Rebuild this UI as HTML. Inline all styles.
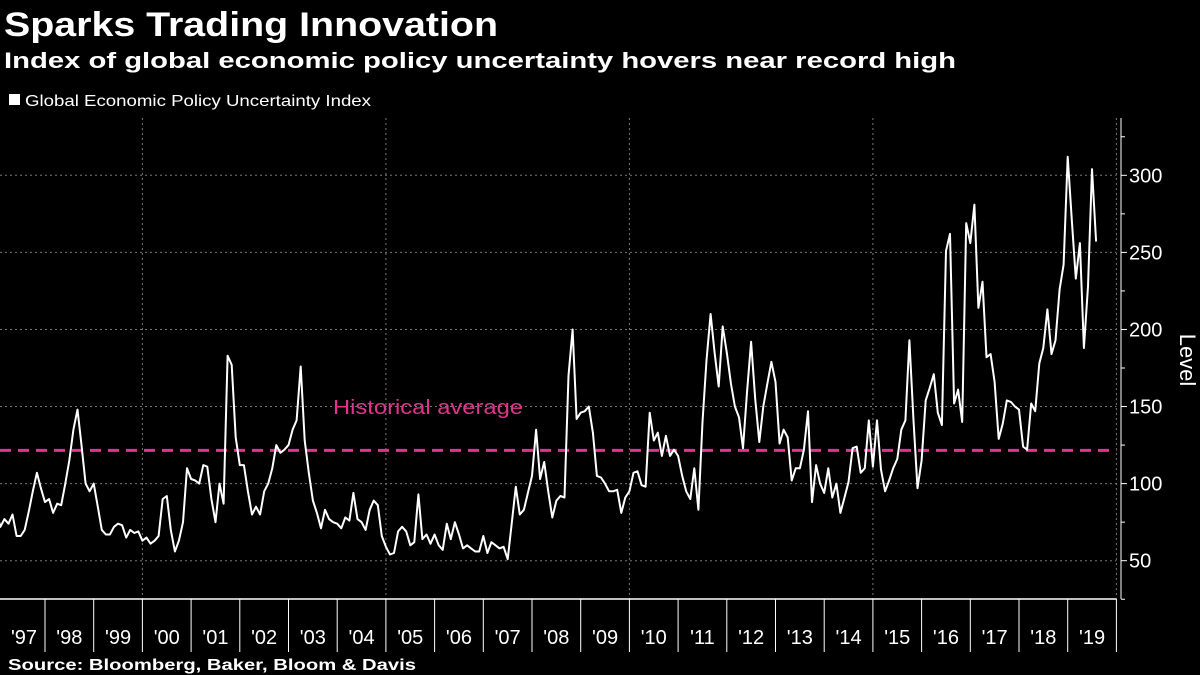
<!DOCTYPE html>
<html><head><meta charset="utf-8"><style>
html,body{margin:0;padding:0;background:#000;}
svg{display:block;font-family:"Liberation Sans",sans-serif;}
</style></head><body>
<svg id="chart" width="1200" height="675" viewBox="0 0 1200 675" xmlns="http://www.w3.org/2000/svg">
<rect width="1200" height="675" fill="#000"/>
<text x="4" y="36" fill="#fff" font-size="34" font-weight="bold" textLength="494" lengthAdjust="spacingAndGlyphs">Sparks Trading Innovation</text>
<text x="4" y="68" fill="#fff" font-size="22" font-weight="bold" textLength="952" lengthAdjust="spacingAndGlyphs">Index of global economic policy uncertainty hovers near record high</text>
<rect x="9" y="94" width="11" height="11" fill="#fff"/>
<text x="25" y="106" fill="#fff" font-size="16" textLength="346" lengthAdjust="spacingAndGlyphs">Global Economic Policy Uncertainty Index</text>
<text x="8" y="670" fill="#fff" font-size="16" font-weight="bold" textLength="408" lengthAdjust="spacingAndGlyphs">Source: Bloomberg, Baker, Bloom &amp; Davis</text>
<g id="grid"></g>
<g id="axes"></g>
<g id="series"></g>
</svg>
<script>
const yearLabels = ["'97","'98","'99","'00","'01","'02","'03","'04","'05","'06","'07","'08","'09","'10","'11","'12","'13","'14","'15","'16","'17","'18","'19"];
const yTicks = [50,100,150,200,250,300];
const historicalAverage = 121.6;
const v1997_2002 = [81,72,77,74,80,66,66,70,82,95,107,97,
 88,90,81,87,86,100,115,135,148,125,100,95,
 100,85,70,67,67,72,74,73,65,70,68,69,
 63,65,61,63,66,90,92,70,56,63,75,110,
 103,102,100,112,111,90,75,100,87,183,177,130,
 112,112,95,80,85,80,95,100,110,125,120,122];
const v2003_2008 = [125,135,141,176,128,107,89,81,71,83,77,75,
 74,71,78,76,94,77,75,70,83,89,86,66,
 59,54,55,69,72,69,60,62,93,64,67,61,
 67,60,57,74,64,75,67,58,60,58,56,56,
 66,55,62,60,58,59,51,74,98,80,83,94,
 105,135,103,114,95,78,89,92,91,170,200,142];
const v2009_2014 = [146,147,150,133,105,104,100,95,95,96,81,91,
 95,107,108,99,98,146,128,133,118,131,118,122,
 118,105,95,90,110,83,140,180,210,185,163,202,
 185,165,150,143,123,160,192,155,127,150,165,179,
 166,126,135,130,102,110,110,122,147,88,112,100,
 94,110,91,100,81,91,101,123,124,107,110,141];
const v2015_2019 = [111,141,109,95,102,110,116,135,141,193,141,97,
 115,154,162,171,146,138,251,262,152,161,140,269,
 256,281,214,231,182,184,166,129,139,154,153,150,
 148,124,122,152,147,178,188,213,184,193,226,242,
 312,271,233,256,188,228,304,257];
const values = v1997_2002.concat(v2003_2008, v2009_2014, v2015_2019);

const NS = "http://www.w3.org/2000/svg";
const X0 = -3.7, YEARW = 48.7;
function xMonth(i){ return X0 + YEARW * i / 12; }
function xYear(k){ return X0 + YEARW * k; }
function yVal(v){ return 175.3 + (300 - v) * 1.5416; }
function mk(tag, attrs, parent){ const e=document.createElementNS(NS,tag); for(const k in attrs) e.setAttribute(k, attrs[k]); parent.appendChild(e); return e; }

const grid = document.getElementById('grid');
const axes = document.getElementById('axes');
const series = document.getElementById('series');
const plotRight = xYear(yearLabels.length);

yTicks.forEach(t => {
  const g = mk('line',{x1:0,x2:plotRight,y1:yVal(t),y2:yVal(t),stroke:'#777','stroke-width':1,'stroke-dasharray':'2,3'},grid);
  
  
  const tk = mk('line',{x1:1121,x2:1127,y1:yVal(t),y2:yVal(t),stroke:'#fff','stroke-width':1},axes);
  
  
  const lb = mk('text',{x:1129,y:yVal(t)+7,fill:'#fff','font-size':20},axes);
  lb.textContent = t;
  
  
});
for (let t = 25; t <= 325; t += 50) {
  const m = mk('line',{x1:1121,x2:1125,y1:yVal(t),y2:yVal(t),stroke:'#fff','stroke-width':1},axes);
  
  
}
for (let k = 3; k <= yearLabels.length; k += 5) {
  const g = mk('line',{x1:xYear(k),x2:xYear(k),y1:118,y2:599,stroke:'#777','stroke-width':1,'stroke-dasharray':'2,3'},grid);
  
  
}
const ya = mk('line',{x1:1121,x2:1121,y1:118,y2:599,stroke:'#fff','stroke-width':1},axes);


const xa = mk('line',{x1:0,x2:plotRight,y1:599,y2:599,stroke:'#fff','stroke-width':1.5},axes);


for (let k = 1; k <= yearLabels.length; k++) {
  const tk = mk('line',{x1:xYear(k),x2:xYear(k),y1:599,y2:652,stroke:'#fff','stroke-width':1},axes);
  
  
}
yearLabels.forEach((lab,k) => {
  const t = mk('text',{x:Math.max(xYear(k)+YEARW/2, 24),y:644,fill:'#fff','font-size':20,'text-anchor':'middle'},axes);
  t.textContent = lab;
  
  
});
const yt = mk('text',{x:1180,y:360,fill:'#fff','font-size':22,'text-anchor':'middle',transform:'rotate(90 1180 360)'},axes);
yt.textContent = 'Level';



const avg = mk('line',{x1:0,x2:plotRight,y1:yVal(historicalAverage),y2:yVal(historicalAverage),stroke:'#e0348c','stroke-width':3,'stroke-dasharray':'11,7'},series);


const al = mk('text',{x:333,y:414,fill:'#e0348c','font-size':20,textLength:190,lengthAdjust:'spacingAndGlyphs'},series);
al.textContent = 'Historical average';



const pts = values.map((v,i) => xMonth(i).toFixed(1)+','+yVal(v).toFixed(1)).join(' ');
const line = mk('polyline',{points:pts,fill:'none',stroke:'#fff','stroke-width':2,'stroke-linejoin':'round'},series);


</script>
</body></html>
